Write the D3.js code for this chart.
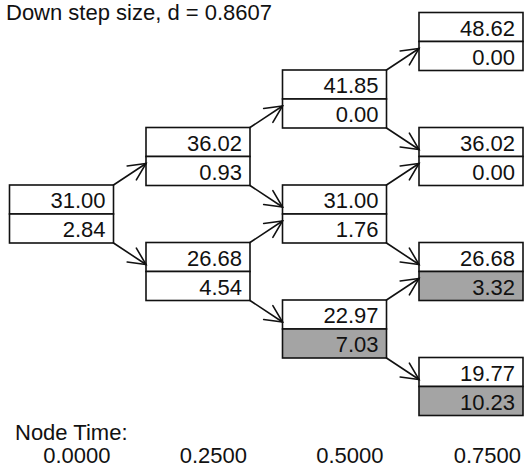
<!DOCTYPE html>
<html>
<head>
<meta charset="utf-8">
<script src="https://cdn.jsdelivr.net/npm/d3@7"></script>
<style>
html,body{margin:0;padding:0;background:#fff;}
svg{display:block;}
text{font-family:"Liberation Sans",Arial,Helvetica,sans-serif;font-size:22px;fill:#111;}
</style>
</head>
<body>
<svg id="chart" width="524" height="468"></svg>
<script>
// ---- data ----
const titleText = "Down step size, d = 0.8607";
const timeLabel = "Node Time:";
const nodeTimes = ["0.0000", "0.2500", "0.5000", "0.7500"];
// stock prices per time step, top node first
const prices = [
  [31.00],
  [36.02, 26.68],
  [41.85, 31.00, 22.97],
  [48.62, 36.02, 26.68, 19.77]
];
// option values per node
const optionValues = [
  [2.84],
  [0.93, 4.54],
  [0.00, 1.76, 7.03],
  [0.00, 0.00, 3.32, 10.23]
];
// early-exercise (shaded) nodes
const exercised = [
  [false],
  [false, false],
  [false, false, true],
  [false, false, true, true]
];

// ---- layout ----
const svg = d3.select("#chart");
const boxW = 104, halfH = 29;
const x = d3.scaleLinear().domain([0, 3]).range([9.5, 419]);
const y = d3.scaleLinear().domain([-1.5, 1.5]).range([41.5, 386.5]);
const fmt = d3.format(".2f");

const nodes = [];
prices.forEach((col, i) => col.forEach((p, j) => {
  nodes.push({i, j, price: p, opt: optionValues[i][j], ex: exercised[i][j],
    x: x(i), mid: y(j - i / 2)});
}));

// edges
const edges = [];
nodes.forEach(n => {
  if (n.i < prices.length - 1) {
    const upMid = y(n.j - (n.i + 1) / 2);
    const dnMid = y(n.j + 1 - (n.i + 1) / 2);
    edges.push({x1: n.x + boxW, y1: n.mid - halfH, x2: x(n.i + 1), y2: upMid + 7});
    edges.push({x1: n.x + boxW, y1: n.mid + halfH, x2: x(n.i + 1), y2: dnMid - 7});
  }
});

const g = svg.append("g");

// boxes
const nodeG = g.selectAll("g.node").data(nodes).join("g").attr("class", "node");
nodeG.append("rect")
  .attr("x", d => d.x).attr("y", d => d.mid - halfH)
  .attr("width", boxW).attr("height", halfH)
  .attr("fill", "#fff").attr("stroke", "#111").attr("stroke-width", 1.6);
nodeG.append("rect")
  .attr("x", d => d.x).attr("y", d => d.mid)
  .attr("width", boxW).attr("height", halfH)
  .attr("fill", d => d.ex ? "#a4a4a4" : "#fff")
  .attr("stroke", "#111").attr("stroke-width", 1.6);
nodeG.append("text")
  .attr("x", d => d.x + boxW - 8).attr("y", d => d.mid - 6)
  .attr("text-anchor", "end").text(d => fmt(d.price));
nodeG.append("text")
  .attr("x", d => d.x + boxW - 8).attr("y", d => d.mid + halfH - 6)
  .attr("text-anchor", "end").text(d => fmt(d.opt));

// arrows
const armLen = 19, armAng = 26 * Math.PI / 180;
const arrowG = g.selectAll("g.edge").data(edges).join("g").attr("class", "edge")
  .attr("stroke", "#111").attr("stroke-width", 1.6).attr("fill", "none")
  .attr("stroke-linecap", "round");
arrowG.append("line")
  .attr("x1", d => d.x1).attr("y1", d => d.y1)
  .attr("x2", d => d.x2).attr("y2", d => d.y2);
arrowG.append("path").attr("d", d => {
  const a = Math.atan2(d.y1 - d.y2, d.x1 - d.x2);
  const p1 = [d.x2 + armLen * Math.cos(a + armAng), d.y2 + armLen * Math.sin(a + armAng)];
  const p2 = [d.x2 + armLen * Math.cos(a - armAng), d.y2 + armLen * Math.sin(a - armAng)];
  return `M${p1[0]},${p1[1]}L${d.x2},${d.y2}L${p2[0]},${p2[1]}`;
});

// title & time labels
svg.append("text").attr("x", 6).attr("y", 20).text(titleText);
svg.append("text").attr("x", 15).attr("y", 440).text(timeLabel);
svg.selectAll("text.time").data(nodeTimes).join("text").attr("class", "time")
  .attr("x", (d, i) => i === 3 ? 521 : x(i) + boxW - 3)
  .attr("y", 463).attr("text-anchor", "end").text(d => d);
</script>
</body>
</html>
